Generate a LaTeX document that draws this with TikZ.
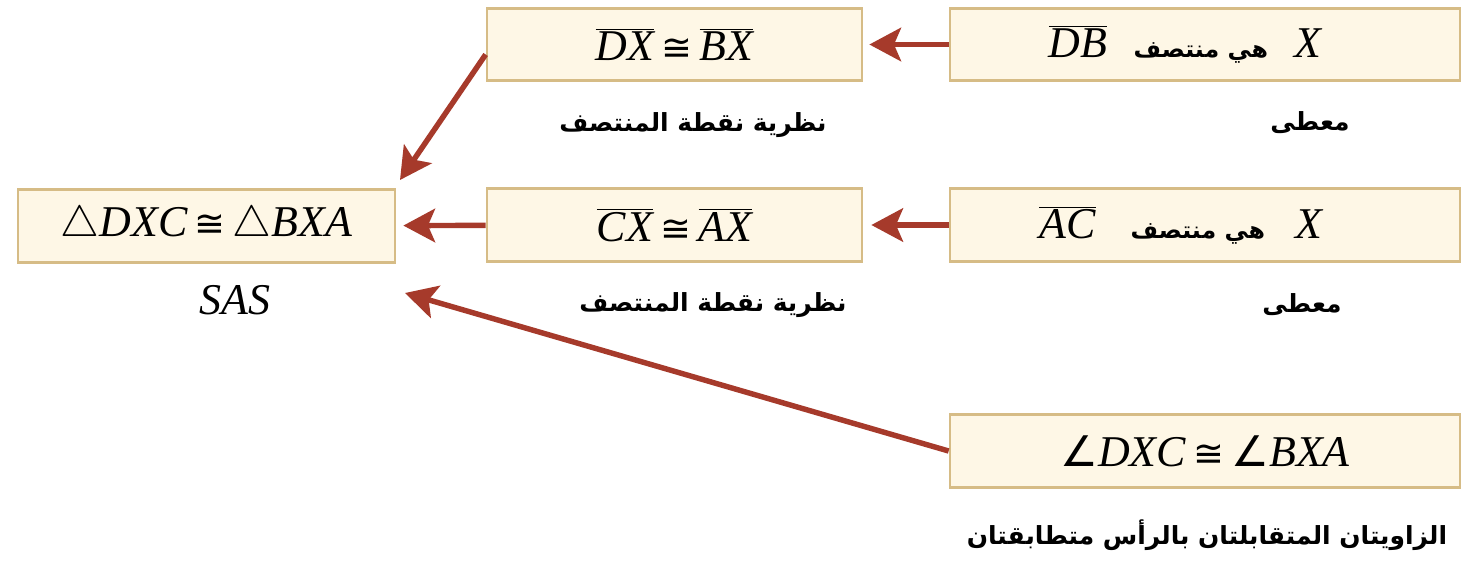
\documentclass[tikz,border=0pt]{standalone}
\usepackage{fontspec}
\setmainfont{Liberation Serif}
\newfontfamily\arabicfont[Script=Arabic]{DejaVu Sans}
\newfontfamily\symfont{DejaVu Sans}
\TeXXeTstate=1
\usetikzlibrary{arrows.meta,calc}
\definecolor{boxfill}{HTML}{FEF7E6}
\definecolor{boxline}{HTML}{D6BC86}
\definecolor{arrowred}{HTML}{A63A2B}
\newcommand{\seg}[1]{$\overline{\mbox{\itshape #1}}$}
\newcommand{\congsym}{\,{\symfont\fontsize{21}{24}\selectfont ≅}\,}
\newcommand{\anglesym}{{\symfont\fontsize{24}{26}\selectfont ∠}}
\newcommand{\artext}[1]{{\arabicfont\bfseries\beginR #1\endR}}
\newcommand{\boxar}[1]{{\fontsize{13.5}{16}\selectfont\artext{#1}}}
\begin{document}
\begin{tikzpicture}[x=0.02cm,y=-0.02cm,
    stmt/.style={draw=boxline,fill=boxfill,line width=1.6pt,inner sep=0pt,minimum height=1.45cm,font=\fontsize{25}{30}\selectfont},
    reason/.style={inner sep=0pt,font=\fontsize{14.2}{17}\selectfont},
    link/.style={draw=arrowred,line width=3.1pt,-{Stealth[length=18pt,width=19pt,inset=4pt]}}]
    \useasboundingbox (0,0) rectangle (1465,562);
    \node[stmt,minimum width=7.54cm] (L) at (206.5,226) {$\triangle${\itshape DXC}\congsym$\triangle${\itshape BXA}};
    \node[stmt,minimum width=7.5cm] (M1) at (674.5,44.5) {\seg{DX}\congsym\seg{BX}};
    \node[stmt,minimum width=7.5cm] (M2) at (674.5,225) {\seg{CX}\congsym\seg{AX}};
    \node[stmt,minimum width=10.2cm] (R1) at (1205,44.5) {\seg{DB}\hspace{0.6em}\boxar{هي منتصف}\hspace{0.6em}{\itshape X}\kern0.8cm};
    \node[stmt,minimum width=10.2cm] (R2) at (1205,225) {\seg{AC}\hspace{0.8em}\boxar{هي منتصف}\hspace{0.7em}{\itshape X}\kern0.96cm};
    \node[stmt,minimum width=10.2cm] (R3) at (1205,451) {\anglesym{\itshape DXC}\congsym\anglesym{\itshape BXA}};
    \node (sas) at (235,300) {\fontsize{25}{30}\selectfont\itshape SAS};
    \node[reason] (t1) at (693,125) {\artext{نظرية نقطة المنتصف}};
    \node[reason] (t2) at (713,305) {\artext{نظرية نقطة المنتصف}};
    \node[reason] (g1) at (1310,123) {\artext{معطى}};
    \node[reason] (g2) at (1302,305) {\artext{معطى}};
    \node[reason] (va) at (1207,535) {\artext{الزاويتان المتقابلتان بالرأس متطابقتان}};
    \coordinate (tipa) at (400,180);
    \coordinate (tipc) at (405,293);
    \draw[link,shorten >=0.12cm] (R1) -- (M1);
    \draw[link,shorten >=0.16cm] (R2) -- (M2);
    \draw[link,shorten >=0.14cm] (M2) -- (L);
    \draw[link] ($(M1.west)+(0,10)$) -- (tipa);
    \draw[link] (R3.west) -- (tipc);
\end{tikzpicture}
\end{document}
